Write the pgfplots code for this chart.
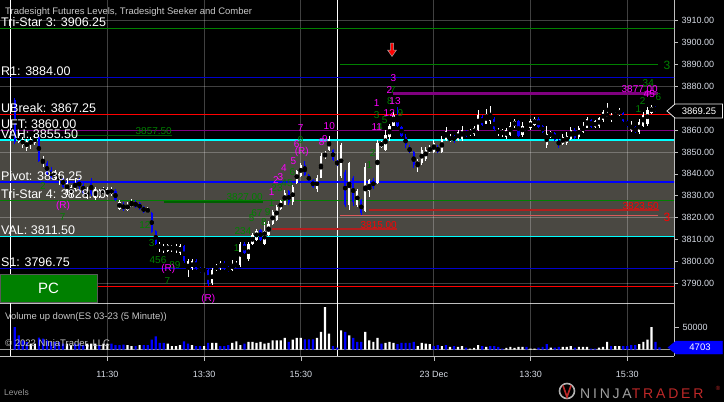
\documentclass[border=0pt]{standalone}
\usepackage{fontspec}
\setmainfont{Liberation Sans}
\newfontfamily\logofont[LetterSpace=20]{Liberation Sans}
\usepackage{pgfplots}
\pgfplotsset{compat=1.18}
\usepackage{pgfplotstable}

\definecolor{vafill}{RGB}{74,72,66}
\definecolor{ntblue}{RGB}{0,0,255}
\definecolor{dkblue}{RGB}{0,0,205}
\definecolor{ntgreen}{RGB}{0,128,0}
\definecolor{dkgreen}{RGB}{0,95,0}
\definecolor{ntpurple}{RGB}{128,0,128}
\definecolor{ntmag}{RGB}{255,0,255}
\definecolor{ntcyan}{RGB}{0,255,255}
\definecolor{ntred}{RGB}{255,0,0}
\definecolor{dkred}{RGB}{178,30,30}
\definecolor{ltred}{RGB}{215,90,90}
\definecolor{axgray}{RGB}{190,190,190}
\definecolor{txtgray}{RGB}{215,220,230}
\definecolor{titlegray}{RGB}{200,200,200}
\definecolor{pcgreen}{RGB}{0,128,0}
\definecolor{logored}{RGB}{190,40,40}
\newcommand{\fs}[1]{\fontsize{#1}{#1}\selectfont}

% 5-minute candles, x = bar index (0 = 9:30 first session, 81 = 9:30 23 Dec)
\pgfplotstableread{
x o h l c
2 3854.5 3859 3854 3858
3 3853 3857 3852 3856
4 3852 3856 3850.5 3855
5 3853 3857 3851.5 3856
6 3854 3858 3853 3857
8 3845 3848 3843 3847
11 3838 3842 3837 3841
12 3837 3841 3835 3840
14 3832 3838 3830.5 3836
15 3831 3835 3829.5 3834
16 3833 3838 3832 3836
19 3829 3834 3828.5 3832
21 3829 3834 3828 3833
22 3830 3833 3829 3832
23 3831 3834 3831 3833
24 3830 3834 3829.5 3833
25 3831 3834 3830 3833
27 3824 3828 3823.5 3827
29 3823.5 3827 3823 3826
30 3825 3828.5 3825 3827
34 3822.5 3825 3822 3824
37 3806 3809 3804.5 3808
38 3805 3808 3804 3807
39 3805 3808 3804.5 3807.5
40 3805.5 3807.5 3804.5 3807
41 3805 3808 3804 3807
42 3804 3808 3803 3807
44 3796 3801 3793 3800
45 3797 3801 3796 3800
48 3795 3797.5 3795 3797
50 3790 3797 3789 3796
51 3796 3799 3795.5 3798
52 3797 3800 3796 3799.5
55 3796 3800.5 3795.5 3799
56 3797 3800 3797 3799
57 3798.5 3809 3797.5 3808
59 3801 3809 3800 3808
60 3808 3813 3807.5 3812
61 3810 3815 3809.5 3814
63 3808 3818 3807.5 3814
64 3812 3818.5 3811.5 3817
65 3817 3823.5 3816.5 3822.5
66 3819 3826 3818.5 3825
67 3824 3828 3823.5 3827.5
68 3826 3832.5 3826 3831.5
70 3827 3835 3826 3834
71 3836 3842 3835.5 3841.5
72 3839 3845 3838.5 3844
76 3833 3839.5 3831.5 3838
77 3838 3849.5 3838 3848
78 3847.5 3850.5 3847 3849.5
79 3851 3857.5 3850.5 3856
82 3839 3854 3838 3853
84 3826 3845.5 3823.5 3845
86 3826 3833 3825 3832
88 3823 3845 3822.5 3843
89 3832 3837.5 3829.5 3837
91 3836 3855.5 3835.5 3854
92 3852.5 3855 3852 3854.5
93 3851 3860 3850.5 3858
94 3857 3863 3855 3862
95 3862 3868.5 3862 3867
101 3843.5 3847 3841 3846
102 3845 3852.5 3844 3851
103 3847 3852.5 3846 3851
104 3850 3853 3849.5 3852
105 3850 3855.5 3849.5 3854
107 3850 3857.5 3849.5 3856
108 3855.5 3861.5 3855 3859.5
109 3855 3858 3854.5 3857
111 3855.5 3860 3855 3859
112 3856 3862 3855 3860
114 3858 3860.5 3857.5 3859.5
115 3858 3862 3857.5 3861
116 3860 3869 3859.5 3867
118 3863 3869.5 3863 3867.5
119 3864 3871 3863 3867
121 3858.5 3861 3857.5 3860
122 3858 3860.5 3857 3860
123 3857 3861 3856 3860
124 3858 3863.5 3857.5 3862
125 3862 3865 3861 3864
127 3858 3863.5 3857 3862
129 3861 3865 3860 3864
130 3862.5 3866 3862 3865
133 3853 3862 3851.8 3858
134 3857 3859.5 3856.5 3859
137 3853.5 3858 3853 3857
138 3854 3859 3853 3857.5
139 3856 3861.5 3855.5 3860
141 3857 3862 3856 3861
142 3859 3863.5 3858.5 3862
143 3861 3866 3861 3865
145 3861.5 3864.5 3861 3864
146 3862 3866 3861 3865.5
147 3864.5 3869 3863.5 3868.5
148 3866 3872.5 3866 3868
149 3864.5 3868 3863.5 3867
150 3866 3868.5 3866 3867.5
151 3867 3870 3866.5 3869
154 3860 3864 3859 3862.5
156 3859 3865 3858 3863.5
157 3862 3868.5 3861.5 3867
158 3863 3870.5 3862 3869
159 3868 3871.5 3867.5 3870.5
}\upbars

\pgfplotstableread{
x o h l c
1 3873.8 3874.7 3853.5 3854.5
7 3857 3858 3845.5 3846
9 3845 3846 3839 3840
10 3842 3843 3837 3838
13 3838 3839 3833.5 3834
17 3837 3838 3832.5 3834
18 3835 3836 3831 3831.5
20 3836 3838 3830 3831
26 3832 3833 3827.5 3828
28 3826 3827 3823 3824
31 3827 3828 3824.5 3825
32 3826.5 3827 3823.5 3824
33 3825 3825.5 3822 3822.5
35 3822 3822.5 3813 3813.5
36 3814 3814.5 3807.5 3808
43 3807 3807.5 3799.5 3800
46 3800 3801 3796 3797
47 3797 3797.5 3794.5 3795
49 3796 3796.5 3788.7 3789.5
53 3799.5 3800 3796 3797
54 3797.5 3798 3795 3795.5
58 3808 3809 3803.5 3804
62 3814.5 3815 3809.5 3810
69 3832 3832.5 3826 3826.5
73 3844 3846 3839 3839.5
74 3839.5 3840 3836 3836.5
75 3837 3837.5 3833.5 3834
80 3851 3851.5 3846 3846.5
81 3846 3846.5 3843.5 3844
83 3841 3842 3825 3826
85 3838 3839 3825.5 3827
87 3828 3828.5 3821.2 3822
90 3837 3838 3833 3834
96 3867 3870.5 3861.5 3862
97 3861.5 3862 3857 3857.5
98 3857 3858 3852 3853
99 3852 3853 3849.5 3850
100 3850 3850.5 3842.5 3844
106 3852.5 3853 3849.5 3850
110 3857.5 3858 3854 3855
113 3859.5 3860 3857 3857.5
117 3866 3867 3862 3862.5
120 3865 3866 3859.5 3860.5
126 3864 3864.5 3857 3857.5
128 3861.5 3862 3859.5 3860
131 3865 3866 3861 3861.5
132 3862 3862.5 3858.5 3859
135 3858.5 3859 3855 3855.5
136 3855.5 3856 3852 3853
140 3860 3861 3856 3856.5
144 3864.5 3865 3861 3861.5
152 3868 3868.5 3863.5 3864
153 3864 3864.5 3861.5 3862
155 3861.5 3862 3858.5 3859
160 3870 3871 3868.5 3869
161 3869.5 3870 3868.5 3869.25
}\dnbars

\pgfplotstableread{
x v
5 13600
6 13600
14 13600
15 9800
19 13600
20 13600
21 13600
23 13600
24 13600
29 9800
30 7600
32 9800
39 13600
40 7600
41 7600
42 9800
45 9800
48 7600
50 15200
51 15200
55 15200
56 18900
57 9800
59 17400
60 17400
61 15200
62 17400
63 13600
64 15200
65 21200
66 21200
67 21200
68 26500
70 22700
71 26500
72 26500
76 26500
77 40200
78 97000
79 36400
82 43900
84 32600
88 40200
89 21200
90 17400
91 26500
93 15200
94 17400
95 15200
101 7600
102 15200
103 13600
104 12100
107 7600
109 6100
111 6100
112 7600
114 2300
115 3800
116 9800
118 6100
123 3800
124 6100
125 3800
126 6100
127 6100
129 2300
130 2300
134 4500
137 6100
138 6100
139 7600
141 6100
142 6100
143 6100
146 4500
147 6100
148 17400
150 7600
151 7600
156 12100
157 17400
158 22700
159 51500
}\volup

\pgfplotstableread{
x v
1 51500
2 32600
3 21200
4 17400
7 27300
8 25000
9 21200
10 17400
11 17400
12 17400
13 13600
16 13600
17 13600
18 9800
22 9800
25 13600
26 9800
27 9800
28 11400
31 7600
33 9800
34 9800
35 22700
36 30300
37 15200
38 15200
43 18900
44 13600
46 7600
47 7600
49 15200
52 7600
53 7600
54 9800
58 13600
69 17400
73 23500
74 23500
75 23500
80 7600
81 4500
83 40200
85 26500
86 17400
87 17400
92 13600
96 12100
97 15200
98 15200
99 15200
100 17400
105 7600
106 9800
108 9800
110 7600
113 4500
117 7600
119 7600
120 7600
121 6100
122 2300
128 6100
131 4500
132 6100
133 12100
135 4500
136 6100
140 4500
144 2300
145 2300
149 7600
152 7600
153 7600
154 9800
155 9800
160 17400
161 4703
}\voldn

\pgfplotsset{
  ntpanel/.style={
    anchor=north west, scale only axis, width=674pt,
    xmin=-2.65, xmax=164.6,
  },
  ntticks/.style={
    axis x line*=bottom, axis y line*=right,
    axis line style={draw=axgray, line width=0.8pt},
    xtick={24,48,72,105,129,153},
    xmajorgrids,
    grid style={draw=white, draw opacity=0.25, line width=0.8pt},
    tick align=outside, major tick length=4pt,
    tick style={draw=axgray, line width=0.6pt},
    yticklabel pos=right,
    yticklabel style={font=\fs{9}, text=txtgray,
      /pgf/number format/assume math mode=true,
      /pgf/number format/1000 sep={}},
    extra x ticks={0,81}, extra x tick labels={},
    extra x tick style={grid=major, major tick length=0pt,
      major grid style={draw=white, draw opacity=1, line width=1pt}},
  },
  wick/.style={only marks, mark=none, forget plot,
    error bars/.cd, y dir=both, y explicit, error mark=none,
    error bar style={draw=#1, line width=0.8pt}},
  body/.style={only marks, mark=none, forget plot,
    error bars/.cd, y dir=both, y explicit, error mark=none,
    error bar style={draw=#1, line width=2.2pt}},
}

\begin{document}
\begin{tikzpicture}[x=1pt,y=1pt]
\path[use as bounding box] (0pt,0pt) rectangle (724pt,-402pt);
\fill[black] (0pt,0pt) rectangle (724pt,-402pt);

% value area shading
\begin{axis}[ntpanel, at={(0pt,0pt)}, height=303pt, ymin=3781.0, ymax=3919.46, hide axis]
\addplot[fill=vafill, draw=none] coordinates {(-3,3811.5) (166,3811.5) (166,3855.5) (-3,3855.5)} -- cycle;
\end{axis}

% price panel
\begin{axis}[ntpanel, ntticks, at={(0pt,0pt)}, height=303pt, ymin=3781.0, ymax=3919.46,
  xticklabels={}, xtick style={draw=none},
  ytick={3790,3800,...,3910},
  yticklabel style={/pgf/number format/fixed, /pgf/number format/fixed zerofill,
    /pgf/number format/precision=2},
  extra y ticks={3790,3820,3850,3880,3910}, extra y tick labels={},
  extra y tick style={grid=major, major tick length=0pt},
]
% levels
\addplot[ntgreen, line width=0.9pt] coordinates {(-3,3906.25) (166,3906.25)};
\addplot[ntgreen, line width=0.9pt] coordinates {(81.7,3890) (160.6,3890)};
\addplot[dkblue, line width=0.9pt] coordinates {(-3,3884) (166,3884)};
\addplot[ntpurple, line width=2.6pt] coordinates {(94.8,3876.7) (160.6,3876.7)};
\addplot[ntred, line width=1.1pt] coordinates {(-3,3867.25) (166,3867.25)};
\addplot[ntpurple, line width=1.1pt] coordinates {(-3,3860) (166,3860)};
\addplot[dkgreen, line width=1.8pt] coordinates {(14,3857.5) (40.1,3857.5)};
\addplot[ntcyan, line width=1.1pt] coordinates {(-3,3855.5) (166,3855.5)};
\addplot[ntblue, line width=1.2pt] coordinates {(-3,3836.25) (166,3836.25)};
\addplot[ntgreen, line width=0.9pt] coordinates {(-3,3828) (166,3828)};
\addplot[dkgreen, line width=1.8pt] coordinates {(38,3827.2) (62.5,3827.2)};
\addplot[dkred, line width=1.8pt] coordinates {(89,3823.4) (160.9,3823.4)};
\addplot[ltred, line width=0.9pt] coordinates {(81.7,3821.2) (160.6,3821.2)};
\addplot[dkred, line width=1.8pt] coordinates {(64.8,3814.8) (95.9,3814.8)};
\addplot[ntcyan, line width=1.1pt] coordinates {(-3,3811.5) (166,3811.5)};
\addplot[dkblue, line width=0.9pt] coordinates {(-3,3796.75) (166,3796.75)};
\addplot[ntred, line width=1.1pt] coordinates {(-3,3788.7) (166,3788.7)};
% candles
\addplot[wick=white] table[x=x, y expr=(\thisrow{h}+\thisrow{l})/2, y error expr=(\thisrow{h}-\thisrow{l})/2] {\upbars};
\addplot[body=white] table[x=x, y expr=(\thisrow{o}+\thisrow{c})/2, y error expr=(\thisrow{c}-\thisrow{o})/2] {\upbars};
\addplot[wick=ntblue] table[x=x, y expr=(\thisrow{h}+\thisrow{l})/2, y error expr=(\thisrow{h}-\thisrow{l})/2] {\dnbars};
\addplot[body=ntblue] table[x=x, y expr=(\thisrow{o}+\thisrow{c})/2, y error expr=(\thisrow{o}-\thisrow{c})/2] {\dnbars};
\end{axis}

% volume panel
\begin{axis}[ntpanel, ntticks, at={(0pt,-303pt)}, height=53pt,
  ymin=-14815, ymax=106481,
  xticklabels={11:30,13:30,15:30,23 Dec,13:30,15:30},
  xticklabel style={font=\fs{9}, text=txtgray, yshift=-7pt},
  major tick length=5pt,
  ytick={50000}, scaled y ticks=false,
  extra y ticks={0}, extra y tick labels={},
  extra y tick style={grid=major, major tick length=0pt,
    major grid style={draw=axgray, draw opacity=0.8, line width=0.8pt}},
  ybar, bar width=2.2pt,
]
\addplot[fill=white, draw=none, bar shift=0pt] table[x=x, y=v] {\volup};
\addplot[fill=ntblue, draw=none, bar shift=0pt] table[x=x, y=v] {\voldn};
\end{axis}

% texts
\node[anchor=base west, inner sep=0, text=titlegray, font=\fs{9.5}] at (5,-14) {Tradesight Futures Levels, Tradesight Seeker and Comber};
\begin{scope}[every node/.style={anchor=base west, inner sep=0, text=white, font=\fs{12.5}}]
\node at (1,-26.7) {Tri-Star 3: 3906.25};
\node at (1,-75) {R1: 3884.00};
\node at (1,-112.3) {UBreak: 3867.25};
\node at (1,-128.3) {UFT: 3860.00};
\node at (1,-138.3) {VAH: 3855.50};
\node at (1,-180) {Pivot: 3836.25};
\node at (1,-198.3) {Tri-Star 4: 3828.00};
\node at (1,-234.3) {VAL: 3811.50};
\node at (1,-266.7) {S1: 3796.75};
\end{scope}
\begin{scope}[every node/.style={anchor=base east, inner sep=0, font=\fs{10}}]
\node[text=ntgreen] at (172,-134) {3857.50};
\node[text=ntgreen] at (263,-200) {3827.00};
\node[text=ntred] at (397,-228) {3815.00};
\node[text=ntred] at (659,-209) {3823.50};
\node[text=ntmag] at (658,-92.5) {3877.00};
\end{scope}
\node[text=ntgreen, font=\fs{12}, inner sep=0] at (667,-65) {3};
\node[text=ntred, font=\fs{12}, inner sep=0] at (667,-217) {3};
% counts
\begin{scope}[every node/.style={inner sep=0, font=\fs{10}}]
\node[text=ntgreen] at (43,-186) {2};
\node[text=ntgreen] at (62.7,-216.7) {7};
\node[text=ntgreen] at (145,-225) {12};
\node[text=ntgreen] at (151.7,-243.3) {3};
\node[text=ntgreen] at (158,-260) {456};
\node[text=ntgreen] at (175,-265) {89};
\node[text=ntgreen] at (167.3,-281) {7};
\node[text=ntgreen] at (236.7,-248.3) {1};
\node[text=ntgreen] at (243,-231) {234};
\node[text=ntgreen] at (251.7,-218) {5};
\node[text=ntgreen] at (257,-213) {67};
\node[text=ntgreen] at (264,-221.7) {8};
\node[text=ntgreen] at (267.7,-212) {9};
\node[text=ntgreen] at (271.7,-203) {1};
\node[text=ntgreen] at (277,-188.3) {23};
\node[text=ntgreen] at (287,-183) {45};
\node[text=ntgreen] at (292.3,-171.7) {6};
\node[text=ntgreen] at (300.7,-140) {9};
\node[text=ntgreen] at (369.3,-165) {1};
\node[text=ntgreen] at (372.7,-152.7) {2};
\node[text=ntgreen] at (376.7,-115) {3};
\node[text=ntgreen] at (380,-127.3) {4};
\node[text=ntgreen] at (384.7,-120) {5};
\node[text=ntgreen] at (400.3,-113.3) {9};
\node[text=ntgreen] at (390,-101) {8};
\node[text=ntgreen] at (393,-90) {7};
\node[text=ntgreen] at (638.3,-109) {1};
\node[text=ntgreen] at (642.7,-101) {2};
\node[text=ntgreen] at (658.3,-96.7) {6};
\node[text=ntgreen] at (648.3,-82.7) {34};
\node[text=ntmag] at (63,-206) {(R)};
\node[text=ntmag] at (168.3,-269.3) {(R)};
\node[text=ntmag] at (208.3,-299.3) {(R)};
\node[text=ntmag] at (271.7,-192.3) {1};
\node[text=ntmag] at (276,-180) {2};
\node[text=ntmag] at (280.5,-177) {3};
\node[text=ntmag] at (284,-167.7) {4};
\node[text=ntmag] at (293.3,-161) {5};
\node[text=ntmag] at (296.7,-144.3) {6};
\node[text=ntmag] at (300.7,-128.3) {7};
\node[text=ntmag] at (301.7,-151.7) {(R)};
\node[text=ntmag] at (321.7,-142.3) {8};
\node[text=ntmag] at (325,-139) {9};
\node[text=ntmag] at (329.3,-126) {10};
\node[text=ntmag] at (376.7,-127.3) {11};
\node[text=ntmag] at (376.7,-103.3) {1};
\node[text=ntmag] at (389.3,-112.7) {12};
\node[text=ntmag] at (395,-101) {13};
\node[text=ntmag] at (389.3,-90) {2};
\node[text=ntmag] at (393.3,-78.3) {3};
\node[text=ntmag] at (649.3,-94) {45};
\end{scope}
% arrow
\filldraw[fill=ntred, draw=gray!70, line width=0.5pt] (390.5,-43) -- (393.5,-43) -- (393.5,-50) -- (396.5,-50) -- (392,-56.5) -- (387.5,-50) -- (390.5,-50) -- cycle;
% PC box
\filldraw[fill=pcgreen, draw=gray!70!black, line width=0.8pt] (0.5,-274.5) rectangle (97,-302);
\node[text=white, font=\fs{15}] at (48.5,-288.5) {PC};
% volume texts
\node[anchor=base west, inner sep=0, text=titlegray, font=\fs{9.5}] at (5,-319) {Volume up down(ES 03-23 (5 Minute))};
\node[anchor=base west, inner sep=0, text=titlegray, font=\fs{9.5}] at (5,-346) {\textcopyright{} 2022 NinjaTrader, LLC};
% price and volume markers
\filldraw[fill=black, draw=white!85!gray, line width=0.8pt] (667,-111) -- (675,-104) -- (722.5,-104) -- (722.5,-118) -- (675,-118) -- cycle;
\node[text=white, font=\fs{9.5}] at (699,-111) {3869.25};
\filldraw[fill=ntblue, draw=ntblue] (668,-347.5) -- (676,-341) -- (722.5,-341) -- (722.5,-354) -- (676,-354) -- cycle;
\node[text=white, font=\fs{9.5}] at (700,-347.5) {4703};
% footer
\node[anchor=base west, inner sep=0, text=gray!80!white, font=\fs{8.5}] at (4,-395) {Levels};
\draw[gray!60, line width=1.6pt] (567,-391) circle (7.5);
\draw[logored, line width=1.6pt] (563,-385.5) -- (567,-397) -- (571,-385.5);
\node[anchor=base west, inner sep=0] at (580,-398) {\logofont\fs{14}\textcolor{gray!75}{NINJA}\textcolor{logored}{TRADER}};
\node[inner sep=0, text=logored, font=\fs{6}] at (718,-388) {\textregistered};
\end{tikzpicture}
\end{document}
